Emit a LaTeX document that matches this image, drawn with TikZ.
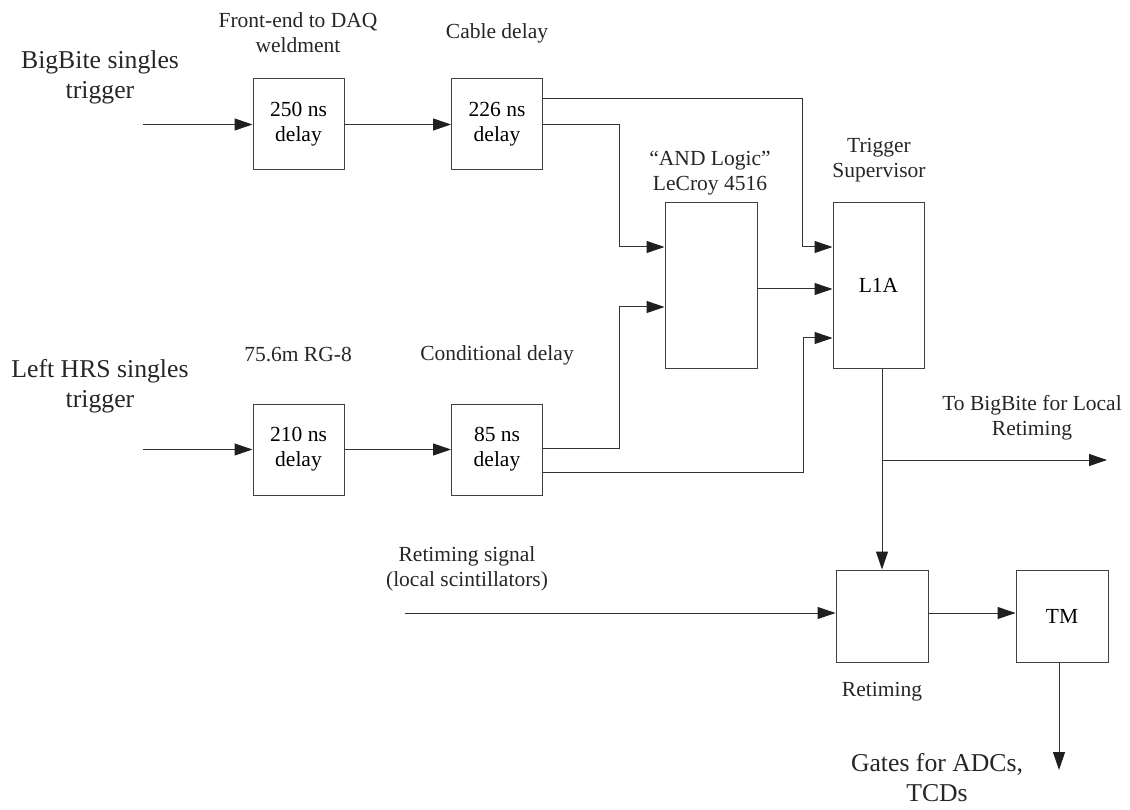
\documentclass[tikz,border=0pt]{standalone}
\usepackage{fontspec}
\setmainfont{Liberation Serif}
\usetikzlibrary{arrows.meta,calc}
\begin{document}
\begin{tikzpicture}[x=1pt,y=-1pt,
  linecol/.style={draw=black!80, line width=1pt},
  arr/.style={linecol, -{Triangle[length=18pt,width=12pt,color=black!88,fill=black!88]}},
  blk/.style={draw=black!75, line width=1pt, inner sep=0pt, align=center,
    font=\fontsize{21.5}{25}\selectfont},
  sq/.style={blk, minimum width=91pt, minimum height=91pt},
  tall/.style={blk, minimum width=92pt, minimum height=165pt},
  small/.style={align=center, inner sep=0pt, text=black!85, font=\fontsize{21.5}{25}\selectfont},
  big/.style={align=center, inner sep=0pt, text=black!85, font=\fontsize{25.7}{30}\selectfont}]
\useasboundingbox (0,0) rectangle (1130,810);

% boxes
\node[sq] (b250) at (298.5,124.5) {250 ns\\delay};
\node[sq] (b226) at (497,124.5) {226 ns\\delay};
\node[sq] (b210) at (298.5,449.5) {210 ns\\delay};
\node[sq] (b85) at (497,449.5) {85 ns\\delay};
\node[tall] (and) at (711,285.5) {};
\node[tall, minimum width=91pt] (l1a) at (878.5,285.5) {L1A};
\node[blk, minimum width=92pt, minimum height=92pt] (ret) at (882,616) {};
\node[blk, minimum width=92pt, minimum height=92pt] (tm) at (1062,616) {TM};

% labels
\node[big] (lbb) at (100,77) {BigBite singles\\trigger};
\node[big] (lhrs) at (100,386) {Left HRS singles\\trigger};
\node[small] (lfe) at (298,33) {Front-end to DAQ\\weldment};
\node[small] (lcd) at (497,33) {Cable delay};
\node[small] (lrg) at (298,355) {75.6m RG-8};
\node[small] (lcond) at (497,355) {Conditional delay};
\node[small] (land) at (710,173) {“AND Logic”\\LeCroy 4516};
\node[small] (lts) at (879,160) {Trigger\\Supervisor};
\node[small] (lto) at (1032,418) {To BigBite for Local\\Retiming};
\node[small] (lrs) at (467,569) {Retiming signal\\(local scintillators)};
\node[small] (lret) at (882,692) {Retiming};
\node[big] (lgate) at (937,778) {Gates for ADCs,\\TCDs};

% free ends
\coordinate (inbb) at (143,124.5);
\coordinate (inhrs) at (143,449.5);
\coordinate (inrs) at (405,613);
\coordinate (br) at (882,460);
\coordinate (outbb) at (1107,460);
\coordinate (outtm) at (1059,770);

% connectors
\draw[arr] (inbb) -- (b250.west);
\draw[arr] (b250.east) -- (b226.west);
\draw[arr] (inhrs) -- (b210.west);
\draw[arr] (b210.east) -- (b85.west);

\draw[arr] (b226.east |- 0,99) -| (802,247) -- (l1a.west |- 0,247);
\draw[arr] (b226.east) -| (619,247) -- (and.west |- 0,247);
\draw[arr] (b85.east |- 0,448) -| (619,307) -- (and.west |- 0,307);
\draw[arr] (b85.east |- 0,472) -| (803,338) -- (l1a.west |- 0,338);
\draw[arr] (and.east |- 0,289) -- (l1a.west |- 0,289);

\draw[arr] (l1a.south -| ret.north) -- (ret.north);
\draw[arr] (br) -- (outbb);
\draw[arr] (inrs) -- (ret.west |- inrs);
\draw[arr] (ret.east |- inrs) -- (tm.west |- inrs);
\draw[arr] (tm.south -| outtm) -- (outtm);
\end{tikzpicture}
\end{document}
